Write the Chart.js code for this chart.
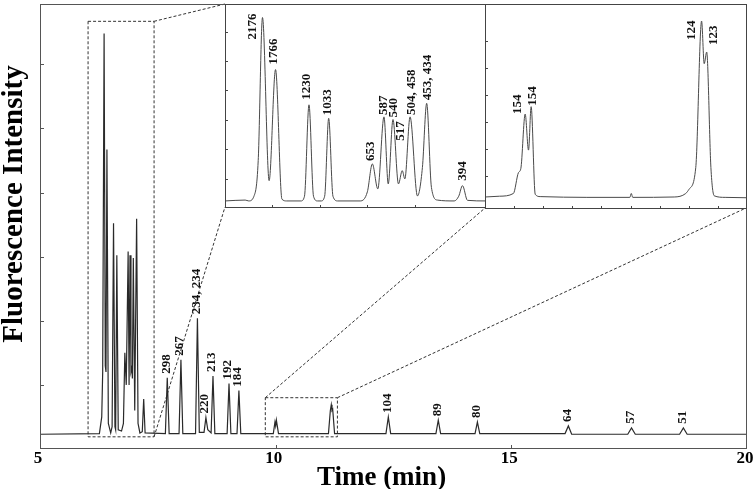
<!DOCTYPE html>
<html>
<head>
<meta charset="utf-8">
<script src="https://cdn.jsdelivr.net/npm/chart.js@4.4.1/dist/chart.umd.min.js"></script>
<style>
  html, body { margin: 0; padding: 0; background: #fff; }
  #wrap { position: relative; width: 754px; height: 489px; overflow: hidden; }
  #wrap canvas { position: absolute; }
</style>
</head>
<body>
<div id="wrap"></div>
<script>
// ---- main electropherogram (time in min, fluorescence in axis units) ----
const mainTime = [5.00, 6.26, 6.31, 6.33, 6.36, 6.385, 6.40, 6.42, 6.45, 6.50, 6.53, 6.56, 6.59, 6.605, 6.63, 6.66,
  6.73, 6.77, 6.80, 6.83, 6.87, 6.89, 6.91, 6.93, 6.95, 6.96, 6.98, 7.01, 7.05, 7.08, 7.12, 7.17, 7.20, 7.23,
  7.66, 7.70, 7.74, 7.95, 7.99, 8.03, 8.30, 8.34, 8.38, 8.48, 8.52, 8.56, 8.63, 8.67, 8.71, 8.97, 9.01, 9.05,
  9.18, 9.22, 9.26, 9.95, 9.985, 10.00, 10.015, 10.06, 11.12, 11.16, 11.18, 11.195, 11.21, 11.25,
  12.34, 12.39, 12.44, 13.40, 13.45, 13.50, 14.23, 14.28, 14.33, 16.14, 16.21, 16.28, 17.47, 17.55, 17.63,
  18.57, 18.65, 18.73, 20.00];
const mainSignal = [0.23, 0.24, 0.5, 1.2, 6.48, 1.3, 1.2, 4.67, 0.4, 0.25, 0.35, 3.52, 0.35, 0.3, 3.02, 0.3,
  0.28, 0.4, 1.5, 1.0, 3.08, 1.0, 3.02, 1.2, 1.27, 1.1, 2.98, 0.6, 3.59, 0.4, 0.25, 0.27, 0.78, 0.25,
  0.24, 1.11, 0.24, 0.24, 1.39, 0.24, 0.24, 2.04, 0.26, 0.26, 0.49, 0.3, 0.25, 1.14, 0.24, 0.24, 1.02, 0.24,
  0.24, 0.91, 0.24, 0.24, 0.42, 0.36, 0.45, 0.24, 0.24, 0.6, 0.69, 0.6, 0.62, 0.24,
  0.24, 0.5, 0.24, 0.24, 0.45, 0.24, 0.24, 0.42, 0.24, 0.24, 0.36, 0.23, 0.23, 0.33, 0.23,
  0.23, 0.33, 0.23, 0.23];

const mainLabels = ['298', '267', '234, 234', '220', '213', '192', '184', '104', '89', '80', '64', '57', '51'];
const mainLabelTime = [7.70, 7.99, 8.34, 8.52, 8.67, 9.01, 9.22, 12.39, 13.45, 14.28, 16.21, 17.55, 18.65];
const mainLabelValue = [1.11, 1.39, 2.04, 0.49, 1.14, 1.02, 0.91, 0.50, 0.45, 0.42, 0.36, 0.33, 0.33];

const xTicks = [5, 10, 15, 20];

// ---- zoomed regions ----
const zoomA = { from: 6.02, to: 7.42, low: 0.19, high: 6.67 };
const zoomB = { from: 9.78, to: 11.31, low: 0.19, high: 0.80 };

// ---- inset A (6.2 - 7.3 min) ----
const insetATime = [6.20, 6.285, 6.30, 6.322, 6.34, 6.358, 6.386, 6.413, 6.44, 6.46, 6.52, 6.535, 6.554, 6.573,
  6.59, 6.605, 6.62, 6.637, 6.655, 6.675, 6.77, 6.80, 6.821, 6.844, 6.87, 6.888, 6.908, 6.931, 6.947, 6.958,
  6.98, 7.011, 7.032, 7.05, 7.07, 7.095, 7.166, 7.185, 7.201, 7.222, 7.30];
const insetASignal = [0.24, 0.27, 0.24, 0.40, 1.62, 6.48, 0.93, 4.71, 0.30, 0.24, 0.24, 0.40, 3.51, 0.40,
  0.24, 0.24, 0.40, 3.05, 0.40, 0.24, 0.24, 0.55, 1.50, 0.65, 3.10, 0.82, 3.01, 0.82, 1.27, 0.99,
  3.10, 0.41, 1.38, 3.56, 0.70, 0.27, 0.24, 0.40, 0.76, 0.26, 0.24];
const insetALabels = ['2176', '1766', '1230', '1033', '653', '587', '540', '517', '504, 458', '453, 434', '394'];
const insetALabelTime = [6.358, 6.413, 6.554, 6.637, 6.821, 6.87, 6.908, 6.947, 6.98, 7.05, 7.201];
const insetALabelValue = [6.48, 4.71, 3.51, 3.05, 1.50, 3.10, 3.01, 1.27, 3.10, 3.56, 0.76];

// ---- inset B (9.8 - 11.6 min) ----
const insetBTime = [9.80, 9.90, 9.995, 10.03, 10.046, 10.076, 10.099, 10.117, 10.145, 10.179, 10.50, 10.795,
  10.805, 10.815, 11.10, 11.179, 11.202, 11.248, 11.288, 11.306, 11.323, 11.352, 11.375, 11.45, 11.60];
const insetBSignal = [0.227, 0.229, 0.236, 0.29, 0.30, 0.441, 0.348, 0.46, 0.234, 0.228, 0.226, 0.226,
  0.236, 0.226, 0.227, 0.236, 0.247, 0.303, 0.681, 0.571, 0.601, 0.303, 0.23, 0.226, 0.225];
const insetBLabels = ['154', '154', '124', '123'];
const insetBLabelTime = [10.076, 10.117, 11.288, 11.323];
const insetBLabelValue = [0.441, 0.46, 0.681, 0.601];

// ---- layout (page pixels) ----
const INSET_A = { left: 225, top: 4, right: 486, bottom: 208 };
const INSET_B = { left: 485, top: 4, right: 747, bottom: 209 };
const SERIF = '"Liberation Serif", "Times New Roman", serif';

const pts = (xs, ys) => xs.map((x, i) => ({ x: x, y: ys[i] }));

// frame + inward tick marks
const frameTicks = {
    id: 'frameTicks',
    beforeDraw(chart, args, o) {
        const { ctx, chartArea: a } = chart;
        ctx.save();
        ctx.fillStyle = '#fff';
        ctx.fillRect(a.left, a.top, a.right - a.left, a.bottom - a.top);
        ctx.restore();
    },
    afterDraw(chart, args, o) {
        const { ctx, chartArea: a, scales: { x, y } } = chart;
        ctx.save();
        ctx.strokeStyle = o.color;
        ctx.lineWidth = 1;
        ctx.strokeRect(a.left + 0.5, a.top + 0.5, a.right - a.left - 1, a.bottom - a.top - 1);
        ctx.beginPath();
        y.ticks.forEach(t => {
            if (t.value <= y.min || t.value >= y.max) return;
            const p = Math.round(y.getPixelForValue(t.value)) + 0.5;
            ctx.moveTo(a.left, p); ctx.lineTo(a.left + o.tick, p);
        });
        x.ticks.forEach(t => {
            if (t.value <= x.min || t.value >= x.max) return;
            const p = Math.round(x.getPixelForValue(t.value)) + 0.5;
            ctx.moveTo(p, a.bottom); ctx.lineTo(p, a.bottom - o.tick);
        });
        ctx.stroke();
        ctx.restore();
    }
};

// rotated peak labels
const peakLabels = {
    id: 'peakLabels',
    afterDatasetsDraw(chart, args, o) {
        const { ctx, scales: { x, y } } = chart;
        ctx.save();
        ctx.fillStyle = '#111';
        ctx.font = 'bold 13px ' + SERIF;
        ctx.textAlign = 'left';
        ctx.textBaseline = 'middle';
        o.text.forEach((s, i) => {
            const px = x.getPixelForValue(o.time[i]) + (o.dx ? o.dx[i] : -1);
            const py = y.getPixelForValue(o.value[i]) - (o.gap ? o.gap[i] : 4);
            ctx.save();
            ctx.translate(px, py);
            ctx.rotate(-Math.PI / 2);
            ctx.fillText(s, 0, 0);
            ctx.restore();
        });
        ctx.restore();
    }
};

// dashed zoom boxes with connectors to the insets, axis titles
const zoomGuides = {
    id: 'zoomGuides',
    beforeDatasetsDraw(chart) {
        const { ctx, scales: { x, y } } = chart;
        const box = z => ({
            l: x.getPixelForValue(z.from), r: x.getPixelForValue(z.to),
            t: y.getPixelForValue(z.high), b: y.getPixelForValue(z.low)
        });
        const A = box(zoomA), B = box(zoomB);
        ctx.save();
        ctx.strokeStyle = '#333';
        ctx.lineWidth = 1;
        ctx.setLineDash([3, 2]);
        [A, B].forEach(k => ctx.strokeRect(k.l, k.t, k.r - k.l, k.b - k.t));
        ctx.beginPath();
        ctx.moveTo(A.r, A.t); ctx.lineTo(INSET_A.left, INSET_A.top);
        ctx.moveTo(A.r, A.b); ctx.lineTo(INSET_A.left, INSET_A.bottom - 1);
        ctx.moveTo(B.l, B.t); ctx.lineTo(INSET_B.left, INSET_B.bottom - 1);
        ctx.moveTo(B.r, B.t); ctx.lineTo(INSET_B.right - 1, INSET_B.bottom - 1);
        ctx.stroke();
        ctx.restore();
    },
    afterDraw(chart) {
        const { ctx, chartArea: a } = chart;
        ctx.save();
        ctx.fillStyle = '#000';
        ctx.font = 'bold 27px ' + SERIF;
        ctx.textAlign = 'center';
        ctx.textBaseline = 'alphabetic';
        ctx.fillText('Time (min)', (a.left + a.right) / 2 - 12, 485);
        ctx.font = 'bold 29px ' + SERIF;
        ctx.translate(22, 204);
        ctx.rotate(-Math.PI / 2);
        ctx.fillText('Fluorescence Intensity', 0, 0);
        ctx.restore();
    }
};

function makeCanvas(left, top, w, h) {
    const c = document.createElement('canvas');
    c.width = w; c.height = h;
    c.style.left = left + 'px'; c.style.top = top + 'px';
    c.style.width = w + 'px'; c.style.height = h + 'px';
    document.getElementById('wrap').appendChild(c);
    return c;
}

const hiddenScale = (min, max, step) => ({
    type: 'linear', min: min, max: max,
    ticks: { display: false, stepSize: step },
    grid: { display: false }, border: { display: false },
    afterFit: s => { s.width = 0; s.height = 0; s.paddingLeft = 0; s.paddingRight = 0; s.paddingTop = 0; s.paddingBottom = 0; }
});

// main chart
new Chart(makeCanvas(0, 0, 754, 489), {
    type: 'line',
    data: {
        datasets: [{
            data: pts(mainTime, mainSignal),
            borderColor: '#2a2a2a',
            borderWidth: 1.2,
            pointRadius: 0,
            tension: 0
        }]
    },
    options: {
        responsive: false,
        animation: false,
        layout: { padding: { top: 4, right: 7, left: 0, bottom: 0 } },
        plugins: {
            legend: { display: false },
            tooltip: { enabled: false },
            frameTicks: { color: '#555', tick: 4 },
            peakLabels: { text: mainLabels, time: mainLabelTime, value: mainLabelValue }
        },
        scales: {
            x: {
                type: 'linear', min: 5, max: 20,
                afterBuildTicks: s => { s.ticks = xTicks.map(v => ({ value: v })); },
                ticks: {
                    color: '#000', padding: -1, maxRotation: 0, autoSkip: false, labelOffset: -2,
                    font: { family: SERIF, weight: 'bold', size: 17 }
                },
                grid: { display: false, drawTicks: false },
                border: { display: false },
                afterFit: s => { s.height = 40; s.paddingLeft = 0; s.paddingRight = 0; }
            },
            y: {
                type: 'linear', min: 0, max: 6.94,
                ticks: { display: false, stepSize: 1 },
                grid: { display: false },
                border: { display: false },
                afterFit: s => { s.width = 40; s.paddingTop = 0; s.paddingBottom = 0; }
            }
        }
    },
    plugins: [frameTicks, zoomGuides, peakLabels]
});

// inset A
new Chart(makeCanvas(INSET_A.left - 1, INSET_A.top - 1, INSET_A.right - INSET_A.left + 2, INSET_A.bottom - INSET_A.top + 2), {
    type: 'line',
    data: {
        datasets: [{
            data: pts(insetATime, insetASignal),
            borderColor: '#4a4a4a',
            borderWidth: 1,
            pointRadius: 0,
            cubicInterpolationMode: 'monotone'
        }]
    },
    options: {
        responsive: false,
        animation: false,
        layout: { padding: 1 },
        plugins: {
            legend: { display: false },
            tooltip: { enabled: false },
            frameTicks: { color: '#444', tick: 3 },
            peakLabels: {
                text: insetALabels, time: insetALabelTime, value: insetALabelValue,
                dx: [-10, -2, -2, -1, -2, 0, 1, -2, 2, 1, 0],
                gap: [-22, 5, 5, 3, 3, 2, 2, 30, 2, 3, 5]
            }
        },
        scales: { x: hiddenScale(6.2, 7.3, 0.2), y: hiddenScale(0, 6.94, 1) }
    },
    plugins: [frameTicks, peakLabels]
});

// inset B
new Chart(makeCanvas(INSET_B.left - 1, INSET_B.top - 1, INSET_B.right - INSET_B.left + 2, INSET_B.bottom - INSET_B.top + 2), {
    type: 'line',
    data: {
        datasets: [{
            data: pts(insetBTime, insetBSignal),
            borderColor: '#4a4a4a',
            borderWidth: 1,
            pointRadius: 0,
            cubicInterpolationMode: 'monotone'
        }]
    },
    options: {
        responsive: false,
        animation: false,
        layout: { padding: 1 },
        plugins: {
            legend: { display: false },
            tooltip: { enabled: false },
            frameTicks: { color: '#444', tick: 3 },
            peakLabels: {
                text: insetBLabels, time: insetBLabelTime, value: insetBLabelValue,
                dx: [-8, 1, -10, 7],
                gap: [0, 1, -19, 7]
            }
        },
        scales: { x: hiddenScale(9.8, 11.6, 0.2), y: hiddenScale(0.196, 0.725, 0.07) }
    },
    plugins: [frameTicks, peakLabels]
});
</script>
</body>
</html>
